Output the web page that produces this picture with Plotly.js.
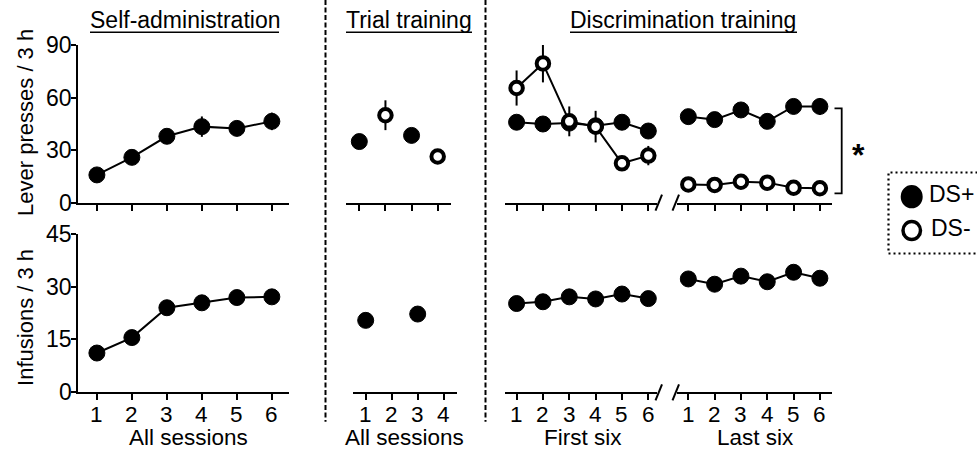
<!DOCTYPE html>
<html>
<head>
<meta charset="utf-8">
<script src="https://cdn.plot.ly/plotly-3.0.1.min.js"></script>
<style>
  html, body { margin: 0; padding: 0; background: #fff; }
  #chart { width: 977px; height: 453px; }
</style>
</head>
<body>
<div id="chart"></div>
<script>
// ---------------- DATA ----------------
const sessions6 = [1, 2, 3, 4, 5, 6];
const sessionLabels6 = ['1', '2', '3', '4', '5', '6'];
const trialSessions = [1, 2, 3, 4];
const trialLabels = ['1', '2', '3', '4'];
const pressTicks = [0, 30, 60, 90];
const infusionTicks = [0, 15, 30, 45];

// Self-administration
const saPresses = [16, 26, 38, 43.5, 42.5, 46.5];
const saPressesErr = [1.5, 2, 3, 5.8, 3, 5];
const saInfusions = [11.1, 15.5, 24, 25.4, 26.9, 27.1];
const saInfusionsErr = [0.8, 1, 1, 1, 1, 1];

// Trial training
const trialDSplusX = [1, 3];
const trialDSplusPresses = [35, 38.5];
const trialDSminusX = [2, 4];
const trialDSminusPresses = [50, 26.5];
const trialDSminusErr = [8.5, 3];
const trialInfusionX = [1, 3];
const trialInfusions = [20.4, 22.2];

// Discrimination training – first six
const firstDSplus = [46, 45, 45.5, 44, 46, 41];
const firstDSplusErr = [2, 2, 2, 2, 2, 3];
const firstDSminus = [65.5, 79.5, 46.5, 43.5, 22.6, 27];
const firstDSminusErr = [10, 10.8, 8.5, 9, 2.5, 5.5];
const firstInfusions = [25.2, 25.7, 27.1, 26.5, 27.9, 26.6];

// Discrimination training – last six
const lastDSplus = [49.2, 47.5, 53, 46.5, 55, 55];
const lastDSplusErr = [2, 2, 2, 2, 2.5, 4.8];
const lastDSminus = [10.6, 10.3, 12.1, 11.6, 8.7, 8.4];
const lastDSminusErr = [1.5, 1.5, 1.5, 1.5, 1.5, 1.5];
const lastInfusions = [32.2, 30.7, 33, 31.4, 34.1, 32.4];

// ---------------- HELPERS ----------------
const W = 977, H = 453;
const px = v => v / W;
const py = v => 1 - v / H;
const FONT = 'Liberation Sans, Arial, Helvetica, sans-serif';

const filledMarker = {symbol: 'circle', size: 16, color: '#000', line: {color: '#000', width: 1}};
const openMarker = {symbol: 'circle', size: 12.5, color: '#fff', line: {color: '#000', width: 4}};
const errStyle = arr => ({type: 'data', array: arr, visible: true, color: '#000', thickness: 2, width: 0});

function trace(x, y, xa, ya, marker, withLine, err) {
  const t = {
    type: 'scatter', x: x, y: y, xaxis: xa, yaxis: ya,
    mode: withLine ? 'lines+markers' : 'markers',
    marker: marker, line: {color: '#000', width: 2},
    cliponaxis: false, hoverinfo: 'skip', showlegend: false
  };
  if (err) t.error_y = errStyle(err);
  return t;
}

const data = [
  // Self-administration
  trace(sessions6, saPresses, 'x', 'y', filledMarker, true, saPressesErr),
  trace(sessions6, saInfusions, 'x2', 'y2', filledMarker, true, saInfusionsErr),
  // Trial training
  trace(trialDSplusX, trialDSplusPresses, 'x3', 'y', filledMarker, false, null),
  trace(trialDSminusX, trialDSminusPresses, 'x3', 'y', openMarker, false, trialDSminusErr),
  trace(trialInfusionX, trialInfusions, 'x4', 'y2', filledMarker, false, null),
  // Discrimination – first six
  trace(sessions6, firstDSplus, 'x5', 'y', filledMarker, true, firstDSplusErr),
  trace(sessions6, firstDSminus, 'x5', 'y', openMarker, true, firstDSminusErr),
  trace(sessions6, firstInfusions, 'x7', 'y2', filledMarker, true, null),
  // Discrimination – last six
  trace(sessions6, lastDSplus, 'x6', 'y', filledMarker, true, lastDSplusErr),
  trace(sessions6, lastDSminus, 'x6', 'y', openMarker, true, lastDSminusErr),
  trace(sessions6, lastInfusions, 'x8', 'y2', filledMarker, true, null)
];

function xAxis(d0, d1, range, anchor, vals) {
  return {
    domain: [px(d0), px(d1)], range: range, anchor: anchor,
    showline: true, linewidth: 2, linecolor: '#000',
    ticks: 'outside', ticklen: 6, tickwidth: 2, tickcolor: '#000',
    tickmode: 'array', tickvals: vals,
    showticklabels: false,
    showgrid: false, zeroline: false, fixedrange: true
  };
}
function yAxis(top, bottom, range, anchor, vals) {
  return {
    domain: [py(bottom), py(top)], range: range, anchor: anchor,
    showline: true, linewidth: 2, linecolor: '#000',
    ticks: 'outside', ticklen: 5, tickwidth: 2, tickcolor: '#000',
    tickmode: 'array', tickvals: vals,
    showticklabels: false,
    showgrid: false, zeroline: false, fixedrange: true
  };
}

const TOP = [45, 203], BOT = [234, 392];

const layout = {
  width: W, height: H,
  margin: {l: 0, r: 0, t: 0, b: 0},
  paper_bgcolor: '#fff', plot_bgcolor: 'rgba(0,0,0,0)',
  showlegend: false,
  font: {family: FONT, size: 22.5, color: '#000'},
  xaxis:  xAxis(78, 289, [0.46, 6.49], 'y', sessions6),
  xaxis2: xAxis(78, 289, [0.46, 6.49], 'y2', sessions6),
  xaxis3: xAxis(346, 451, [0.49, 4.51], 'y', trialSessions),
  xaxis4: xAxis(352.7, 456.7, [0.5, 4.5], 'y2', trialSessions),
  xaxis5: xAxis(505, 657, [0.56, 6.33], 'y', sessions6),
  xaxis6: xAxis(677, 832, [0.57, 6.46], 'y', sessions6),
  xaxis7: xAxis(505, 657, [0.56, 6.33], 'y2', sessions6),
  xaxis8: xAxis(677, 832, [0.57, 6.46], 'y2', sessions6),
  yaxis:  yAxis(TOP[0], TOP[1], [0, 90], 'x', pressTicks),
  yaxis2: yAxis(BOT[0], BOT[1], [0, 45], 'x2', infusionTicks),
  shapes: [],
  annotations: []
};

// shapes helpers
function pline(x0, y0, x1, y1, width, dash) {
  return {type: 'line', xref: 'paper', yref: 'paper',
          x0: px(x0), y0: py(y0), x1: px(x1), y1: py(y1),
          line: {color: '#000', width: width, dash: dash || 'solid'}};
}
// dashed separators
layout.shapes.push(pline(325.5, 0, 325.5, 421.7, 2, '5px,2.5px'));
layout.shapes.push(pline(485.5, 0, 485.5, 421.7, 2, '5px,2.5px'));
// section title underlines
layout.shapes.push(pline(90, 32.3, 279, 32.3, 1.5));
layout.shapes.push(pline(346, 32.3, 472, 32.3, 1.5));
layout.shapes.push(pline(570, 32.3, 797, 32.3, 1.5));
// axis break marks
[202.7, 392.3].forEach(ay => {
  layout.shapes.push(pline(655.5, ay + 8, 662, ay - 8, 2));
  layout.shapes.push(pline(672.5, ay + 8, 679, ay - 8, 2));
});
// significance bracket
layout.shapes.push({type: 'path', xref: 'paper', yref: 'paper',
  path: `M ${px(834.5)} ${py(108.3)} L ${px(841.7)} ${py(108.3)} L ${px(841.7)} ${py(193.3)} L ${px(834.5)} ${py(193.3)}`,
  line: {color: '#000', width: 1.8}});
// legend box and symbols
layout.shapes.push({type: 'rect', xref: 'paper', yref: 'paper',
  x0: px(888.5), x1: px(1015), y0: py(253.5), y1: py(172.5),
  line: {color: '#000', width: 2.2, dash: '2px,3px'}, fillcolor: 'rgba(0,0,0,0)'});
layout.shapes.push({type: 'circle', xref: 'paper', yref: 'paper',
  x0: px(900.7), x1: px(922.7), y0: py(208.3), y1: py(185),
  fillcolor: '#000', line: {color: '#000', width: 0}});
layout.shapes.push({type: 'circle', xref: 'paper', yref: 'paper',
  x0: px(903), x1: px(920.5), y0: py(239.5), y1: py(221.5),
  fillcolor: '#fff', line: {color: '#000', width: 3.5}});

// annotations helper
function ann(text, x, y, size, opts) {
  return Object.assign({
    text: text, xref: 'paper', yref: 'paper', x: px(x), y: py(y),
    xanchor: 'center', yanchor: 'middle', showarrow: false,
    font: {family: FONT, size: size, color: '#000'}
  }, opts || {});
}
// y tick labels placed on the y scales
function yTickLabels(vals, yref) {
  vals.forEach(v => layout.annotations.push({
    text: String(v), xref: 'paper', yref: yref, x: px(73.5), y: v,
    xanchor: 'right', yanchor: 'middle', showarrow: false,
    font: {family: FONT, size: 23, color: '#000'}
  }));
}
yTickLabels(pressTicks, 'y');
yTickLabels(infusionTicks, 'y2');
// x tick labels placed on the bottom x scales
function xTickLabels(vals, labels, xref) {
  vals.forEach((v, i) => layout.annotations.push({
    text: labels[i], xref: xref, yref: 'paper', x: v, y: py(414),
    xanchor: 'center', yanchor: 'middle', showarrow: false,
    font: {family: FONT, size: 22.5, color: '#000'}
  }));
}
xTickLabels(sessions6, sessionLabels6, 'x2');
xTickLabels(trialSessions, trialLabels, 'x4');
xTickLabels(sessions6, sessionLabels6, 'x7');
xTickLabels(sessions6, sessionLabels6, 'x8');
// section titles
layout.annotations.push(ann('Self-administration', 184.5, 20, 23));
layout.annotations.push(ann('Trial training', 409, 20, 23));
layout.annotations.push(ann('Discrimination training', 683.3, 20, 23));
// x titles
layout.annotations.push(ann('All sessions', 188.3, 437.5, 22.5));
layout.annotations.push(ann('All sessions', 404, 437.5, 22.5));
layout.annotations.push(ann('First six', 583, 437.5, 22.5));
layout.annotations.push(ann('Last six', 755, 437.5, 22.5));
// y titles
layout.annotations.push(ann('Lever presses / 3 h', 25.4, 122.5, 22, {textangle: -90}));
layout.annotations.push(ann('Infusions / 3 h', 25.4, 317.5, 22, {textangle: -90}));
// legend text
layout.annotations.push(ann('DS+', 927, 194.2, 23, {xanchor: 'left'}));
layout.annotations.push(ann('DS-', 929, 227.5, 23, {xanchor: 'left'}));
// significance star
layout.annotations.push(ann('<b>*</b>', 858, 155, 32));

Plotly.newPlot('chart', data, layout, {staticPlot: true, displayModeBar: false});
</script>
</body>
</html>
